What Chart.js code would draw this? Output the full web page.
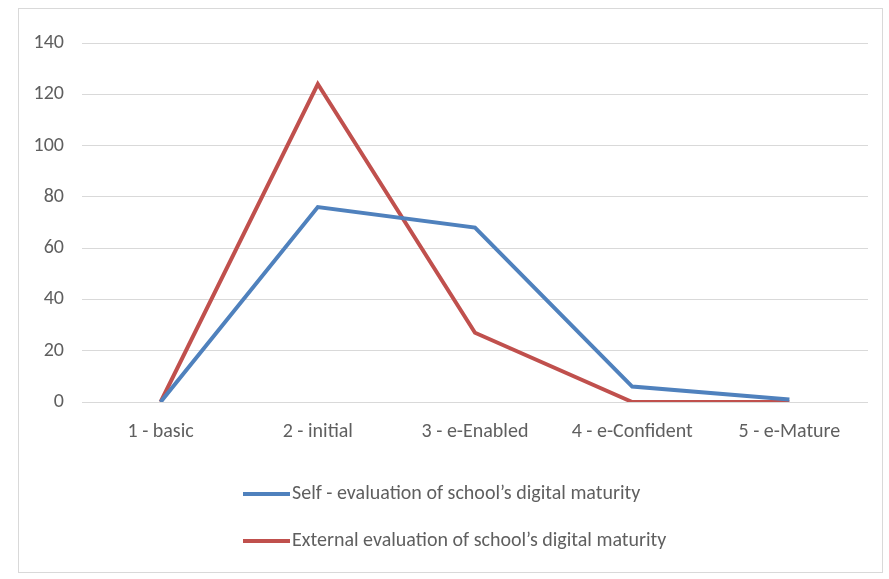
<!DOCTYPE html>
<html>
<head>
<meta charset="utf-8">
<script src="https://cdn.jsdelivr.net/npm/chart.js"></script>
<style>
  html, body { margin: 0; padding: 0; background: #fff; }
  #wrap { width: 889px; height: 579px; position: relative; }
</style>
</head>
<body>
<div id="wrap"><canvas id="maturityChart" width="889" height="579"></canvas></div>
<script>
// Chart data
const categories = ['1 - basic', '2 - initial', '3 - e-Enabled', '4 - e-Confident', '5 - e-Mature'];
const selfEvaluation = [0, 76, 68, 6, 1];
const externalEvaluation = [0, 124, 27, 0, 0];
const seriesLabels = [
  'Self - evaluation of school\u2019s digital maturity',
  'External evaluation of school\u2019s digital maturity'
];
const yTicks = [0, 20, 40, 60, 80, 100, 120, 140];

const fontFamily = "Carlito, 'Liberation Sans Narrow', 'DejaVu Sans Condensed', 'Open Sans', sans-serif";
const fontSize = 20;
const textColor = '#5f5f5f';

// Draws the frame round the chart and the stacked legend under it
const frameAndLegend = {
  id: 'frameAndLegend',
  beforeDraw(chart) {
    const ctx = chart.ctx;
    ctx.save();
    ctx.strokeStyle = '#d9d9d9';
    ctx.lineWidth = 1;
    ctx.strokeRect(18.5, 8.5, 864, 564);
    ctx.restore();
  },
  afterDraw(chart) {
    const ctx = chart.ctx;
    const area = chart.chartArea;
    ctx.save();
    ctx.font = fontSize + 'px ' + fontFamily;
    ctx.textBaseline = 'middle';
    chart.data.datasets.forEach((ds, i) => {
      const y = area.bottom + 92 + i * 47;
      const x = 243;
      ctx.strokeStyle = ds.borderColor;
      ctx.lineWidth = 4;
      ctx.beginPath();
      ctx.moveTo(x, y);
      ctx.lineTo(x + 47, y);
      ctx.stroke();
      ctx.fillStyle = textColor;
      ctx.fillText(ds.label, x + 49, y);
    });
    ctx.restore();
  }
};

const ctx = document.getElementById('maturityChart').getContext('2d');
const chart = new Chart(ctx, {
  type: 'line',
  data: {
    labels: categories,
    datasets: [{
      label: seriesLabels[0],
      data: selfEvaluation,
      borderColor: '#4f81bd',
      borderWidth: 4,
      pointRadius: 0,
      tension: 0
    }, {
      label: seriesLabels[1],
      data: externalEvaluation,
      borderColor: '#c0504d',
      borderWidth: 4,
      pointRadius: 0,
      tension: 0
    }]
  },
  options: {
    responsive: false,
    animation: false,
    layout: { padding: { top: 43, right: 21, bottom: 0, left: 0 } },
    plugins: {
      legend: { display: false },
      tooltip: { enabled: false }
    },
    scales: {
      x: {
        offset: true,
        grid: { display: false, drawTicks: false },
        border: { display: false },
        ticks: { color: textColor, font: { family: fontFamily, size: fontSize }, padding: 18, maxRotation: 0, autoSkip: false },
        afterFit(scale) { scale.height = 177; }
      },
      y: {
        min: 0,
        max: 140,
        afterBuildTicks(scale) { scale.ticks = yTicks.map(v => ({ value: v })); },
        grid: { color: '#d9d9d9', lineWidth: 1, drawTicks: false },
        border: { display: false },
        ticks: { color: textColor, font: { family: fontFamily, size: fontSize }, padding: 18 },
        afterFit(scale) { scale.width = 82; }
      }
    }
  },
  plugins: [frameAndLegend]
});
</script>
</body>
</html>
